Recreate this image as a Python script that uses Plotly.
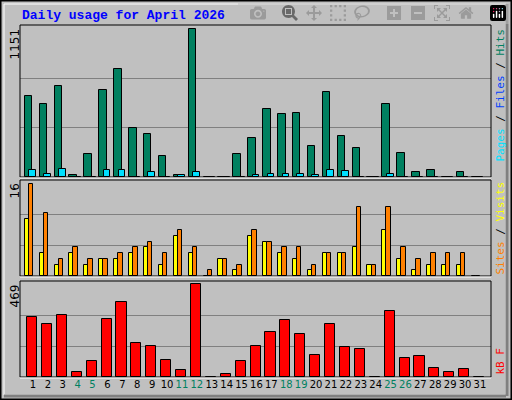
import plotly.graph_objects as go

days = list(range(1, 32))
hits = [632, 569, 710, 16, 178, 679, 843, 381, 334, 162, 16, 1151, 0, 0, 178, 303,
        530, 491, 499, 240, 663, 319, 225, 0, 569, 186, 37, 52, 0, 37, 0]
files = [52, 21, 60, 0, 0, 52, 52, 0, 37, 0, 16, 37, 0, 0, 0, 16,
         21, 26, 26, 16, 52, 44, 0, 0, 26, 0, 0, 0, 0, 0, 0]
sites = [10, 4, 2, 4, 2, 3, 3, 4, 5, 2, 7, 4, 0, 3, 1, 7,
         6, 4, 3, 1, 4, 4, 5, 2, 8, 3, 1, 2, 2, 2, 0]
visits = [16, 11, 3, 5, 3, 3, 4, 5, 6, 4, 8, 5, 1, 3, 2, 8,
          6, 5, 5, 2, 4, 4, 12, 2, 12, 5, 3, 4, 4, 4, 0]
kbytes = [305, 269, 315, 27, 79, 294, 382, 171, 156, 84, 33, 469, 2, 17, 79, 156,
          228, 289, 217, 110, 269, 151, 140, 0, 336, 94, 104, 48, 27, 38, 0]
weekend = [4, 5, 11, 12, 18, 19, 25, 26]

H = 400.0
def py(px):  # pixel row -> paper y
    return 1 - px / H

outline = dict(color="black", width=1)
fig = go.Figure()
fig.add_trace(go.Bar(x=days, y=hits, width=0.5, offset=-0.55, marker=dict(color="#008060", line=outline),
                     xaxis="x", yaxis="y"))
fig.add_trace(go.Bar(x=days, y=files, width=0.45, offset=-0.25, marker=dict(color="#00e0ff", line=outline),
                     xaxis="x", yaxis="y"))
fig.add_trace(go.Bar(x=days, y=sites, width=0.27, offset=-0.55, marker=dict(color="#ffff00", line=outline),
                     xaxis="x2", yaxis="y2"))
fig.add_trace(go.Bar(x=days, y=visits, width=0.3, offset=-0.28, marker=dict(color="#ff8000", line=outline),
                     xaxis="x2", yaxis="y2"))
fig.add_trace(go.Bar(x=days, y=kbytes, width=0.68, offset=-0.4, marker=dict(color="#ff0000", line=outline),
                     xaxis="x3", yaxis="y3"))

ticktext = [f"<span style='color:#008060'>{d}</span>" if d in weekend else str(d) for d in days]
xcommon = dict(range=[0.13, 31.74], domain=[20 / 512, 491 / 512], showgrid=False, zeroline=False,
               fixedrange=True)
fig.update_layout(
    xaxis=dict(**xcommon, showticklabels=False, anchor="y"),
    xaxis2=dict(**xcommon, showticklabels=False, anchor="y2"),
    xaxis3=dict(**xcommon, anchor="y3", tickvals=days, ticktext=ticktext, ticks="", tickangle=0,
                ticklen=0, tickfont=dict(family="DejaVu Sans", size=10, color="black")),
)
panels = [("yaxis", 1151, 1182, 25, 177), ("yaxis2", 16, 16.7, 180, 276), ("yaxis3", 469, 486, 281, 377)]
for name, mx, top, t, b in panels:
    fig.layout[name] = dict(range=[0, top], domain=[py(b), py(t)], tickvals=[mx / 3, 2 * mx / 3],
                            showticklabels=False, gridcolor="#808080", gridwidth=1, zeroline=False,
                            anchor=name.replace("yaxis", "x"))
    fig.add_shape(type="rect", xref="paper", yref="paper", x0=20 / 512, x1=491 / 512,
                  y0=py(b), y1=py(t), line=dict(color="black", width=1))
    fig.add_shape(type="line", xref="paper", yref="paper", x0=20 / 512, x1=491 / 512,
                  y0=py(b + 1), y1=py(b + 1), line=dict(color="white", width=1))
    fig.add_annotation(text=str(mx), xref="paper", yref="paper", x=14 / 512, y=py(t + 2),
                       textangle=-90, showarrow=False, xanchor="center", yanchor="top",
                       font=dict(family="DejaVu Sans", size=12, color="black"))

mono = "DejaVu Sans Mono"
fig.add_annotation(text="<span style='color:#00e0ff'>Pages</span> / <span style='color:#0040ff'>Files</span>"
                        " / <span style='color:#008060'>Hits</span>",
                   xref="paper", yref="paper", x=500 / 512, y=py(27), textangle=-90, showarrow=False,
                   xanchor="center", yanchor="top", font=dict(family=mono, size=11, color="black"))
fig.add_annotation(text="<span style='color:#ff8000'>Sites</span> / <span style='color:#ffff00'>Visits</span>",
                   xref="paper", yref="paper", x=500 / 512, y=py(180), textangle=-90, showarrow=False,
                   xanchor="center", yanchor="top", font=dict(family=mono, size=11, color="black"))
fig.add_annotation(text="<span style='color:#ff0000'>kB F</span>", xref="paper", yref="paper",
                   x=500 / 512, y=py(377), textangle=-90, showarrow=False,
                   xanchor="center", yanchor="bottom", font=dict(family=mono, size=11))
fig.add_annotation(text="<b>Daily usage for April 2026</b>", xref="paper", yref="paper",
                   x=20 / 512, y=py(6), showarrow=False, xanchor="left", yanchor="top",
                   font=dict(family="Liberation Mono", size=13, color="#0000ff"))

# window bevel
fig.add_shape(type="rect", xref="paper", yref="paper", x0=0.001, x1=0.999, y0=0.001, y1=0.999,
              line=dict(color="black", width=2))
fig.add_shape(type="rect", xref="paper", yref="paper", x0=4 / 512, x1=506 / 512, y0=py(395), y1=py(4),
              line=dict(color="white", width=1))
fig.add_shape(type="line", xref="paper", yref="paper", x0=4 / 512, x1=506 / 512, y0=py(396), y1=py(396),
              line=dict(color="#808080", width=3))
fig.add_shape(type="line", xref="paper", yref="paper", x0=507 / 512, x1=507 / 512, y0=py(396), y1=py(4),
              line=dict(color="#808080", width=3))

fig.update_layout(width=512, height=400, margin=dict(l=0, r=0, t=0, b=0), showlegend=False,
                  paper_bgcolor="#c0c0c0", plot_bgcolor="#c0c0c0", barmode="overlay", bargap=0)
fig.write_html("out.html", post_script="document.body.style.margin='0';")
